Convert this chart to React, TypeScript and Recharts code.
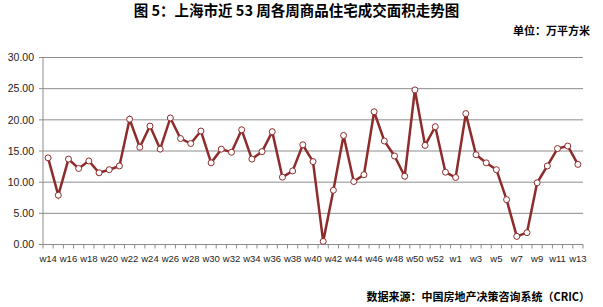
import React from "react";
import { LineChart, Line, XAxis, YAxis, CartesianGrid } from "recharts";

const weeks: string[] = [
  "w14","w15","w16","w17","w18","w19","w20","w21","w22","w23","w24","w25","w26","w27","w28","w29","w30",
  "w31","w32","w33","w34","w35","w36","w37","w38","w39","w40","w41","w42","w43","w44","w45","w46","w47",
  "w48","w49","w50","w51","w52","w53","w1","w2","w3","w4","w5","w6","w7","w8","w9","w10","w11","w12","w13",
];

const areaValues: number[] = [
  13.9, 7.9, 13.7, 12.2, 13.4, 11.5, 12.0, 12.6, 20.1, 15.6, 19.0, 15.3, 20.3, 17.0, 16.2, 18.2, 13.1,
  15.3, 14.8, 18.4, 13.7, 14.9, 18.1, 10.8, 11.8, 16.0, 13.3, 0.5, 8.7, 17.5, 10.1, 11.2, 21.3, 16.6,
  14.2, 10.95, 24.8, 15.9, 18.9, 11.6, 10.75, 21.0, 14.4, 13.1, 12.0, 7.2, 1.3, 1.9, 9.9, 12.6, 15.4, 15.8, 12.85,
];

const yTicks: number[] = [0, 5, 10, 15, 20, 25, 30];

const data = weeks.map((w, i) => ({ week: w, value: areaValues[i] }));

const W = 603;
const H = 307;
const X_H = 30;
const M = { top: 57.5, right: 20, bottom: 62.5 - X_H, left: 0 };
const Y_W = 43;
const PLOT_W = W - M.left - M.right - Y_W;
const BW = PLOT_W / weeks.length;
const LINE = "#8E2B2B";
const GRID = "#8c8c8c";
const FONT = "'Liberation Sans', Arial, 'Noto Sans CJK SC', sans-serif";
const CJK = "'Noto Sans CJK SC', sans-serif";

const XTick = (props: any) => {
  const { x, y, payload, index } = props;
  const showLabel = index % 2 === 0;
  const isLast = index === weeks.length - 1;
  return (
    <g>
      <line x1={x - BW / 2} y1={y} x2={x - BW / 2} y2={y + 4} stroke={GRID} strokeWidth={1} />
      {isLast && (
        <line x1={x + BW / 2} y1={y} x2={x + BW / 2} y2={y + 4} stroke={GRID} strokeWidth={1} />
      )}
      {showLabel && (
        <text x={x} y={y + 17} textAnchor="middle" fontSize={9.5} fill="#222" fontFamily={FONT}>
          {payload.value}
        </text>
      )}
    </g>
  );
};

export default function App() {
  return (
    <div style={{ position: "absolute", left: 0, top: 0, width: W, height: H, background: "#fff" }}>
      <div
        style={{
          position: "absolute",
          left: 0,
          width: W,
          top: 1,
          textAlign: "center",
          fontSize: 14.5,
          fontWeight: "bold",
          fontFamily: CJK,
          color: "#000",
          lineHeight: "18px",
          whiteSpace: "nowrap",
        }}
      >
        <span style={{ position: "relative", left: -5 }}>图 5：上海市近 53 周各周商品住宅成交面积走势图</span>
      </div>
      <div
        style={{
          position: "absolute",
          right: 13,
          top: 22,
          fontSize: 11,
          fontWeight: "bold",
          fontFamily: CJK,
          color: "#000",
          lineHeight: "16px",
          whiteSpace: "nowrap",
        }}
      >
        单位：万平方米
      </div>
      <div
        style={{
          position: "absolute",
          right: 13,
          top: 288,
          fontSize: 11,
          fontWeight: "bold",
          fontFamily: CJK,
          color: "#000",
          lineHeight: "16px",
          whiteSpace: "nowrap",
        }}
      >
        数据来源：中国房地产决策咨询系统（CRIC）
      </div>
      <LineChart width={W} height={H} data={data} margin={M} style={{ position: "absolute", left: 0, top: 0 }}>
        <CartesianGrid vertical={false} stroke={GRID} strokeWidth={1} />
        <XAxis
          dataKey="week"
          height={X_H}
          interval={0}
          padding={{ left: BW / 2, right: BW / 2 }}
          tickLine={false}
          tickSize={0}
          tickMargin={0}
          axisLine={{ stroke: GRID }}
          tick={<XTick />}
        />
        <YAxis
          width={Y_W}
          domain={[0, 30]}
          ticks={yTicks}
          tickSize={4}
          tickMargin={5}
          tickLine={{ stroke: GRID }}
          axisLine={{ stroke: GRID }}
          tickFormatter={(v: number) => v.toFixed(2)}
          tick={{ fontSize: 10.5, fill: "#222", fontFamily: FONT }}
        />
        <Line
          type="linear"
          dataKey="value"
          stroke={LINE}
          strokeWidth={2.5}
          dot={{ r: 3, fill: "#fff", stroke: LINE, strokeWidth: 1 }}
          isAnimationActive={false}
        />
      </LineChart>
    </div>
  );
}
